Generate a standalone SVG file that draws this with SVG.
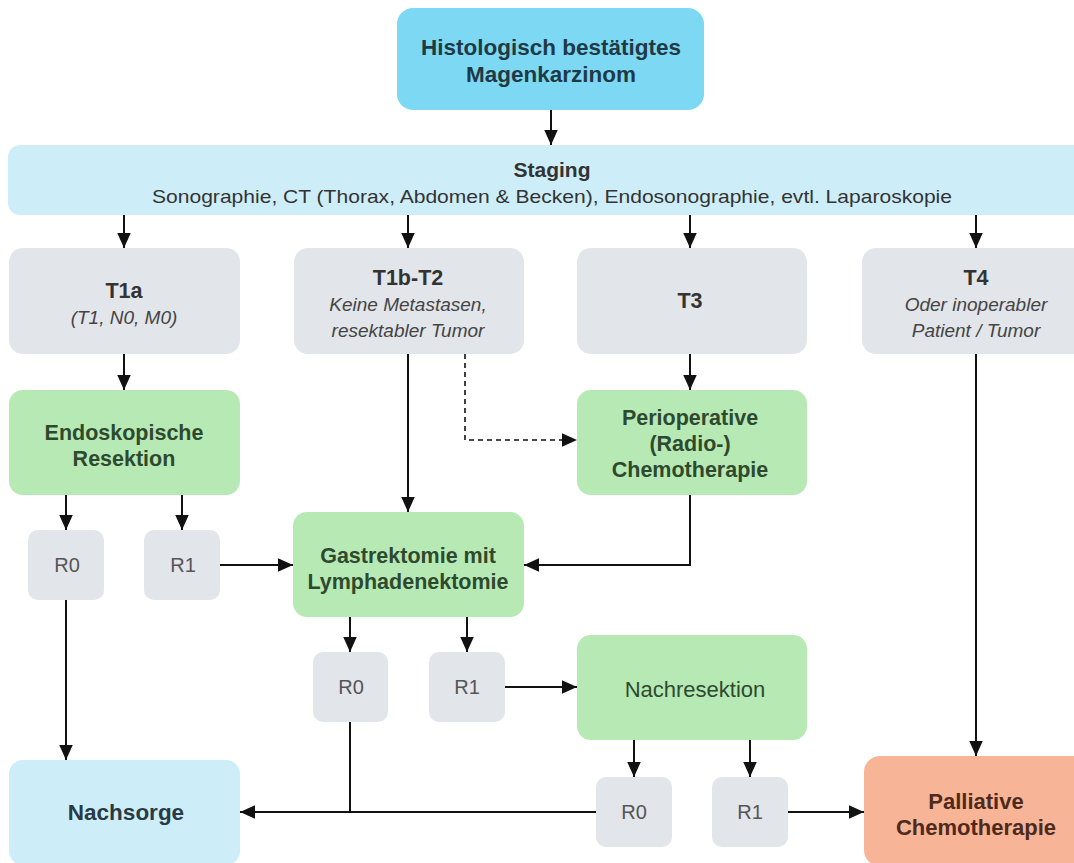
<svg xmlns="http://www.w3.org/2000/svg" width="1074" height="863" viewBox="0 0 1074 863">
<defs>
<marker id="ah" viewBox="0 0 10 10" refX="10" refY="5" markerWidth="15" markerHeight="15" markerUnits="userSpaceOnUse" orient="auto">
<path d="M0,0.5 L10,5 L0,9.5 z" fill="#111"/>
</marker>
</defs>
<style>
text{font-family:"Liberation Sans",Arial,sans-serif;text-anchor:middle}
.blue{fill:#7dd8f4}
.lblue{fill:#cdeef9}
.grey{fill:#e2e5ea}
.green{fill:#b7e9b5}
.orange{fill:#f8b497}
.tb{font-weight:bold;font-size:22.5px;fill:#1f3a44}
.st{font-weight:bold;font-size:21px;fill:#333}
.sub{font-size:18.5px;fill:#333}
.gt{font-weight:bold;font-size:21.5px;fill:#333}
.gi{font-style:italic;font-size:19px;fill:#444}
.grt{font-weight:bold;font-size:21.5px;fill:#2e4a2e}
.grn{font-size:22px;fill:#2e4a2e}
.r{font-size:20px;fill:#555}
.ns{font-weight:bold;font-size:22.5px;fill:#2a3a44}
.pt{font-weight:bold;font-size:22px;fill:#4e2a1c}
.c{fill:none;stroke:#111;stroke-width:2}
.d{fill:none;stroke:#111;stroke-width:1.6;stroke-dasharray:5,4}
</style>
<rect width="1074" height="863" fill="#fff"/>
<g id="connectors">
<path class="c" d="M551,110 V145" marker-end="url(#ah)"/>
<path class="c" d="M124,215 V248" marker-end="url(#ah)"/>
<path class="c" d="M408,215 V248" marker-end="url(#ah)"/>
<path class="c" d="M690,215 V248" marker-end="url(#ah)"/>
<path class="c" d="M976,215 V248" marker-end="url(#ah)"/>
<path class="c" d="M124,354 V390" marker-end="url(#ah)"/>
<path class="c" d="M408,354 V512" marker-end="url(#ah)"/>
<path class="d" d="M465,354 V440 H577" marker-end="url(#ah)"/>
<path class="c" d="M690,354 V390" marker-end="url(#ah)"/>
<path class="c" d="M976,354 V756" marker-end="url(#ah)"/>
<path class="c" d="M66,495 V530" marker-end="url(#ah)"/>
<path class="c" d="M182,495 V530" marker-end="url(#ah)"/>
<path class="c" d="M220,565 H293" marker-end="url(#ah)"/>
<path class="c" d="M690,495 V565 H524" marker-end="url(#ah)"/>
<path class="c" d="M66,600 V760" marker-end="url(#ah)"/>
<path class="c" d="M350,617 V652" marker-end="url(#ah)"/>
<path class="c" d="M467,617 V652" marker-end="url(#ah)"/>
<path class="c" d="M505,687 H577" marker-end="url(#ah)"/>
<path class="c" d="M350,722 V812"/>
<path class="c" d="M596,812 H240" marker-end="url(#ah)"/>
<path class="c" d="M634,740 V777" marker-end="url(#ah)"/>
<path class="c" d="M750,740 V777" marker-end="url(#ah)"/>
<path class="c" d="M788,812 H864" marker-end="url(#ah)"/>
</g>
<g id="n-top"><rect class="blue" x="397" y="8" width="307" height="102" rx="16"/>
<text class="tb" x="551" y="55">Histologisch bestätigtes</text>
<text class="tb" x="551" y="82">Magenkarzinom</text></g>
<g id="n-staging"><rect class="lblue" x="8" y="145" width="1080" height="70" rx="12"/>
<text class="st" x="552" y="177">Staging</text>
<text class="sub" x="552" y="203" textLength="800" lengthAdjust="spacingAndGlyphs">Sonographie, CT (Thorax, Abdomen &amp; Becken), Endosonographie, evtl. Laparoskopie</text></g>
<g id="n-t1a"><rect class="grey" x="9" y="248" width="231" height="106" rx="14"/>
<text class="gt" x="124" y="298">T1a</text>
<text class="gi" x="124" y="324">(T1, N0, M0)</text></g>
<g id="n-t1b"><rect class="grey" x="294" y="248" width="230" height="106" rx="14"/>
<text class="gt" x="408" y="285">T1b-T2</text>
<text class="gi" x="408" y="311">Keine Metastasen,</text>
<text class="gi" x="408" y="337">resektabler Tumor</text></g>
<g id="n-t3"><rect class="grey" x="577" y="248" width="230" height="106" rx="14"/>
<text class="gt" x="690" y="308">T3</text></g>
<g id="n-t4"><rect class="grey" x="862" y="248" width="230" height="106" rx="14"/>
<text class="gt" x="976" y="285">T4</text>
<text class="gi" x="976" y="311">Oder inoperabler</text>
<text class="gi" x="976" y="337">Patient / Tumor</text></g>
<g id="n-endo"><rect class="green" x="9" y="390" width="231" height="105" rx="14"/>
<text class="grt" x="124" y="440">Endoskopische</text>
<text class="grt" x="124" y="466">Resektion</text></g>
<g id="n-periop"><rect class="green" x="577" y="390" width="230" height="105" rx="14"/>
<text class="grt" x="690" y="425">Perioperative</text>
<text class="grt" x="690" y="451">(Radio-)</text>
<text class="grt" x="690" y="477">Chemotherapie</text></g>
<g id="n-gastr"><rect class="green" x="293" y="512" width="231" height="105" rx="14"/>
<text class="grt" x="408" y="563">Gastrektomie mit</text>
<text class="grt" x="408" y="589">Lymphadenektomie</text></g>
<g id="n-nachres"><rect class="green" x="577" y="635" width="230" height="105" rx="14"/>
<text class="grn" x="695" y="697">Nachresektion</text></g>
<g id="n-r0a"><rect class="grey" x="28" y="530" width="76" height="70" rx="10"/><text class="r" x="67" y="572">R0</text></g>
<g id="n-r1a"><rect class="grey" x="144" y="530" width="76" height="70" rx="10"/><text class="r" x="183" y="572">R1</text></g>
<g id="n-r0b"><rect class="grey" x="313" y="652" width="75" height="70" rx="10"/><text class="r" x="351" y="694">R0</text></g>
<g id="n-r1b"><rect class="grey" x="429" y="652" width="76" height="70" rx="10"/><text class="r" x="467" y="694">R1</text></g>
<g id="n-r0c"><rect class="grey" x="596" y="777" width="76" height="70" rx="10"/><text class="r" x="634" y="819">R0</text></g>
<g id="n-r1c"><rect class="grey" x="712" y="777" width="76" height="70" rx="10"/><text class="r" x="750" y="819">R1</text></g>
<g id="n-nachsorge"><rect class="lblue" x="9" y="760" width="231" height="105" rx="14"/>
<text class="ns" x="126" y="820">Nachsorge</text></g>
<g id="n-palliativ"><rect class="orange" x="864" y="756" width="230" height="110" rx="16"/>
<text class="pt" x="976" y="809">Palliative</text>
<text class="pt" x="976" y="835">Chemotherapie</text></g>
</svg>
